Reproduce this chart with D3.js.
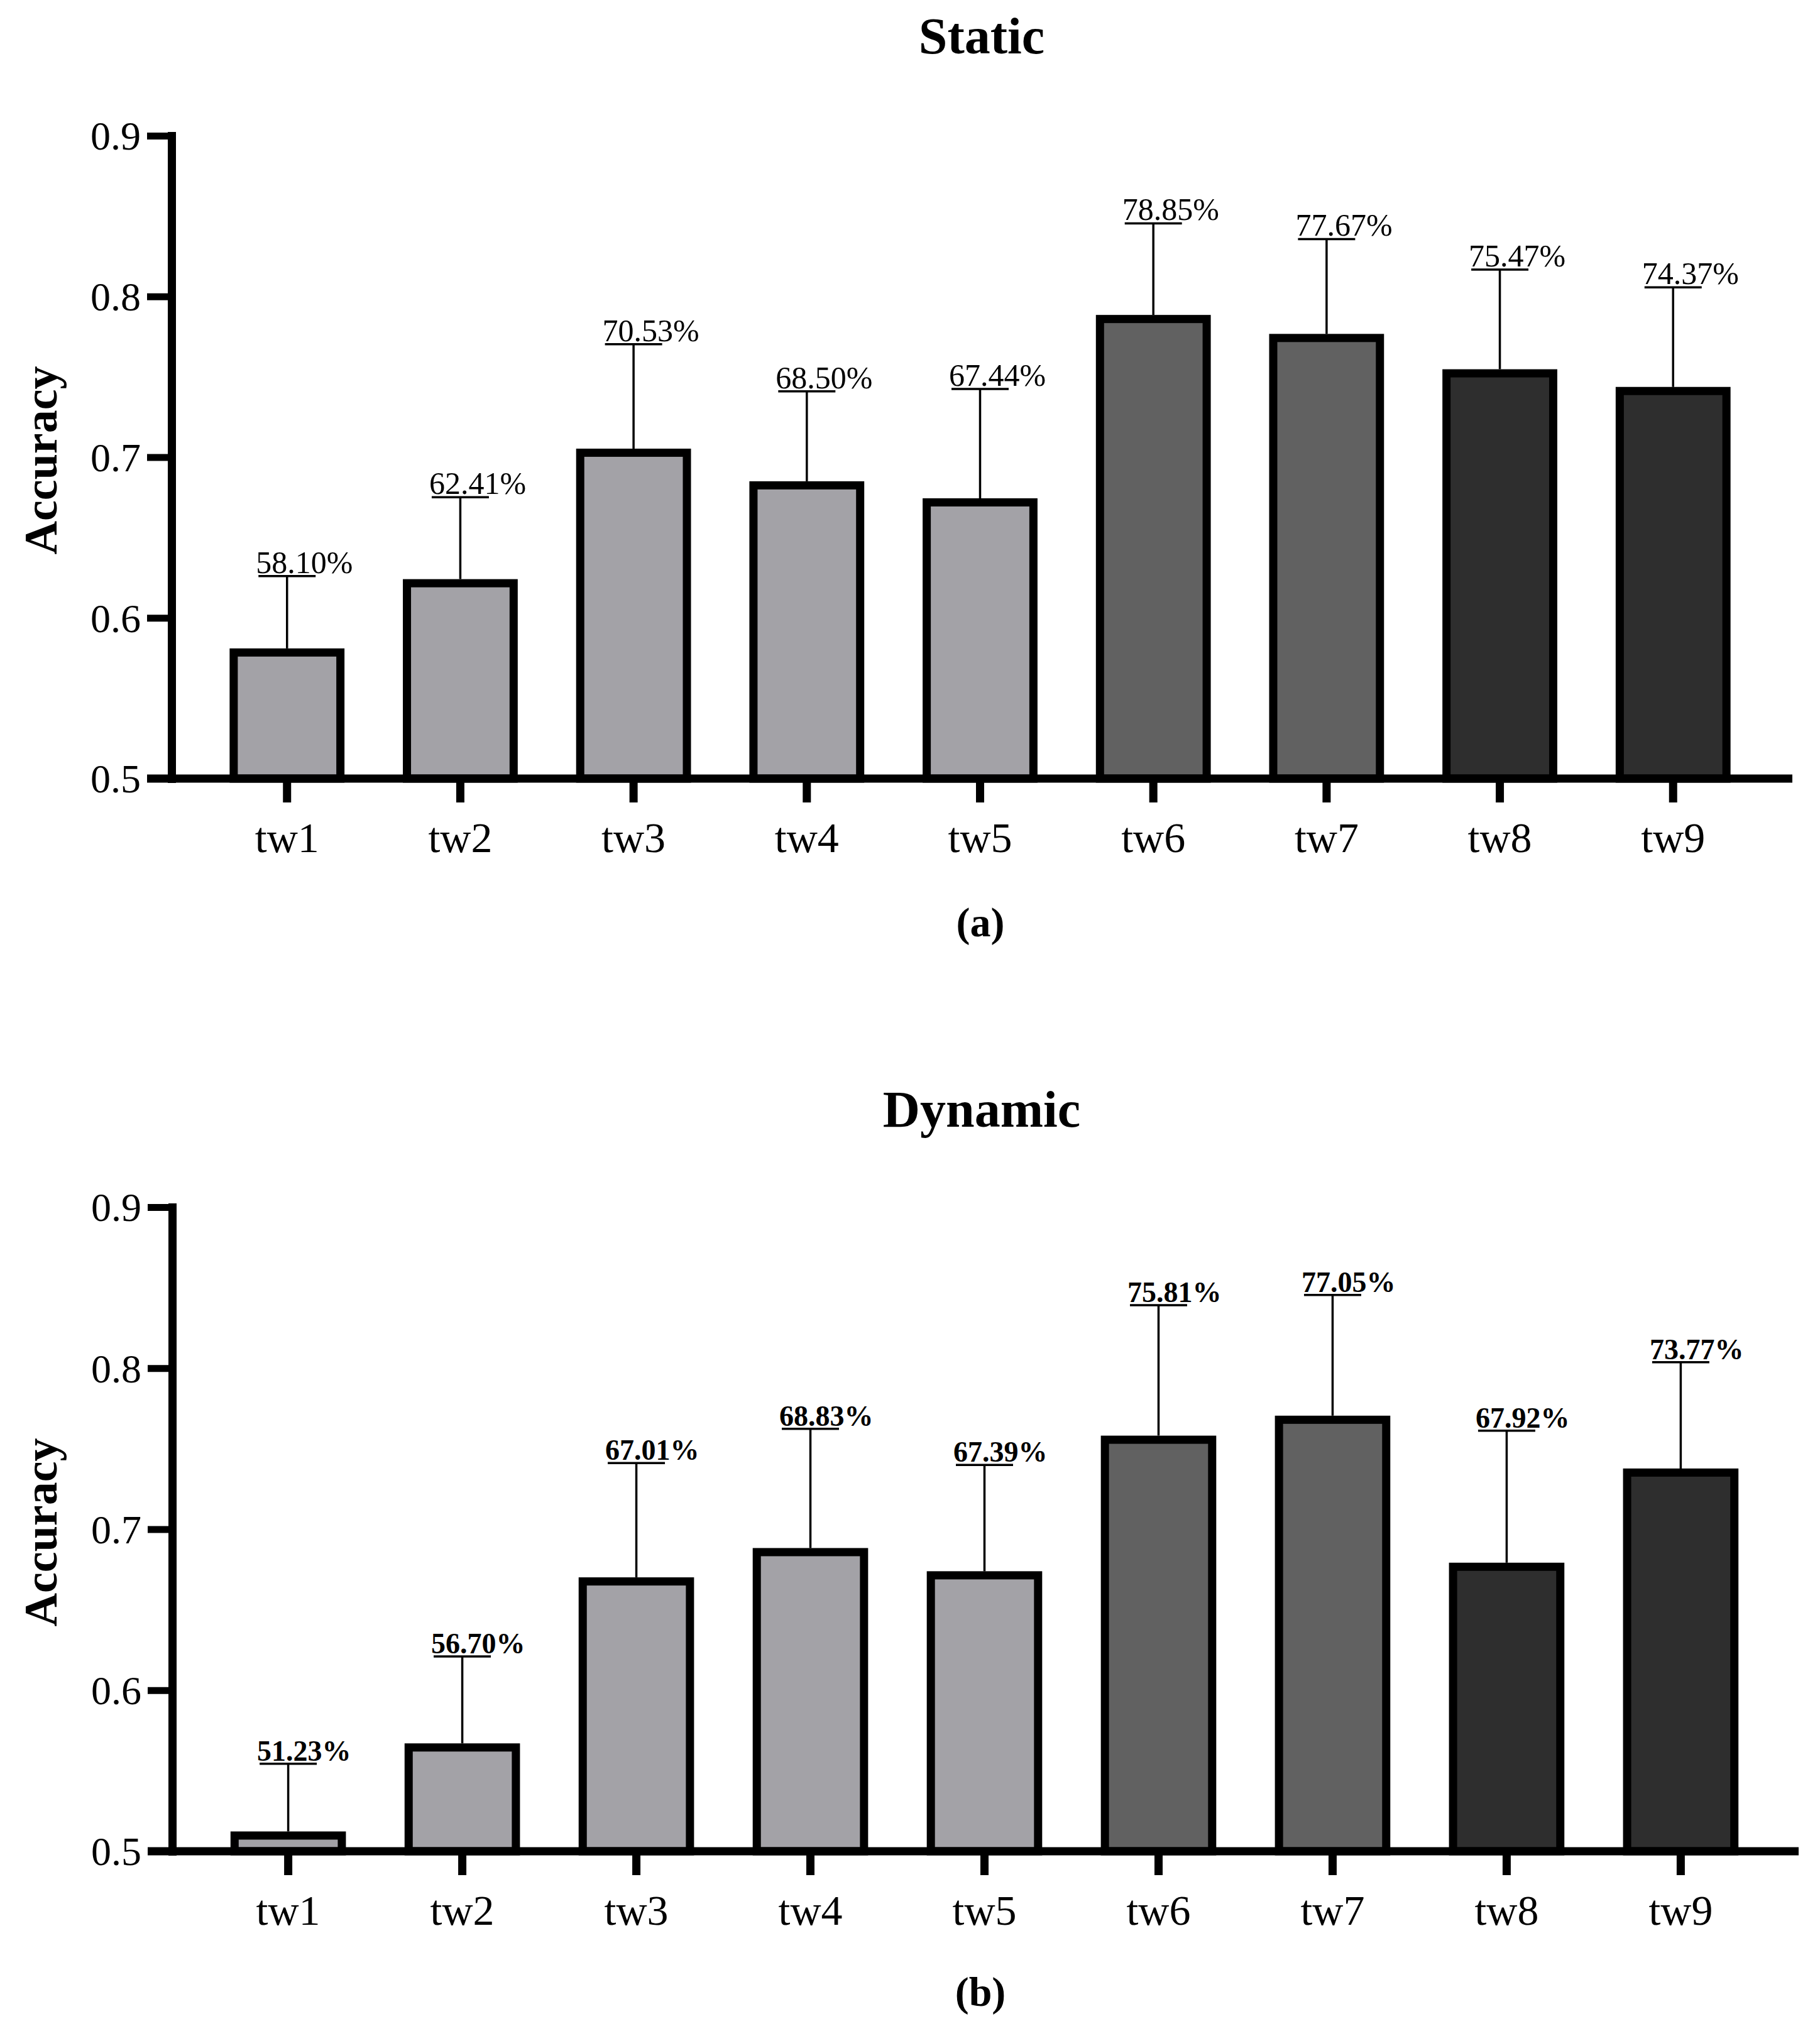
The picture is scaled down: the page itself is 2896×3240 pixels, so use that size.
<!DOCTYPE html>
<html>
<head>
<meta charset="utf-8">
<script src="https://cdn.jsdelivr.net/npm/d3@7"></script>
<style>
  body { margin: 0; background: #fff; }
  text { font-family: "Liberation Serif", "DejaVu Serif", serif; fill: #000; }
</style>
</head>
<body>
<div id="chart"></div>
<script>
// data
const categories = ["tw1", "tw2", "tw3", "tw4", "tw5", "tw6", "tw7", "tw8", "tw9"];
const yTicks = [0.5, 0.6, 0.7, 0.8, 0.9];

const staticAcc = [0.5810, 0.6241, 0.7053, 0.6850, 0.6744, 0.7885, 0.7767, 0.7547, 0.7437];
const staticErr = [0.045, 0.051, 0.065, 0.056, 0.068, 0.057, 0.059, 0.062, 0.062];

const dynamicAcc = [0.5123, 0.5670, 0.6701, 0.6883, 0.6739, 0.7581, 0.7705, 0.6792, 0.7377];
const dynamicErr = [0.042, 0.054, 0.071, 0.074, 0.066, 0.081, 0.075, 0.082, 0.066];

const width = 2896;
const height = 3240;

const svg = d3.select("#chart")
  .append("svg")
  .attr("width", width)
  .attr("height", height);

// bar shades: tw1-5 light, tw6-7 mid, tw8-9 dark
const fill = d3.scaleOrdinal()
  .domain(categories)
  .range(["#a3a2a7", "#a3a2a7", "#a3a2a7", "#a3a2a7", "#a3a2a7",
          "#616161", "#616161", "#2e2e2e", "#2e2e2e"]);

const panels = [
  {title: "Static", caption: "(a)", acc: staticAcc, err: staticErr,
   yTop: 216, yBase: 1239, x0: 273, x1: 2846, axisEnd: 2852,
   titleY: 85, captionY: 1490, labelWeight: "normal", labelSize: 50},
  {title: "Dynamic", caption: "(b)", acc: dynamicAcc, err: dynamicErr,
   yTop: 1921, yBase: 2946, x0: 274, x1: 2859, axisEnd: 2862,
   titleY: 1793, captionY: 3192, labelWeight: "bold", labelSize: 46}
];

const axisW = 13;
const barStroke = 13;

panels.forEach(p => {
  const g = svg.append("g");

  const x = d3.scaleBand()
    .domain(categories)
    .range([p.x0, p.x1])
    .paddingInner(0.337)
    .paddingOuter(0.335);

  const y = d3.scaleLinear()
    .domain([0.5, 0.9])
    .range([p.yBase, p.yTop]);

  const rows = categories.map((c, i) => ({cat: c, v: p.acc[i], e: p.err[i]}));

  // bars (border kept inside the value edge)
  g.selectAll(".bar")
    .data(rows)
    .enter()
    .append("rect")
    .attr("class", "bar")
    .attr("x", d => x(d.cat) + barStroke / 2)
    .attr("y", d => y(d.v) + barStroke / 2)
    .attr("width", x.bandwidth() - barStroke)
    .attr("height", d => y(0.5) - y(d.v) - barStroke / 2)
    .attr("fill", d => fill(d.cat))
    .attr("stroke", "#000")
    .attr("stroke-width", barStroke);

  // error bars, upper side only
  const capHalf = 45.5;
  const err = g.selectAll(".err")
    .data(rows)
    .enter()
    .append("g")
    .attr("class", "err");

  err.append("line")
    .attr("x1", d => x(d.cat) + x.bandwidth() / 2)
    .attr("x2", d => x(d.cat) + x.bandwidth() / 2)
    .attr("y1", d => y(d.v))
    .attr("y2", d => y(d.v + d.e))
    .attr("stroke", "#000")
    .attr("stroke-width", 3.5);

  err.append("line")
    .attr("x1", d => x(d.cat) + x.bandwidth() / 2 - capHalf)
    .attr("x2", d => x(d.cat) + x.bandwidth() / 2 + capHalf)
    .attr("y1", d => y(d.v + d.e))
    .attr("y2", d => y(d.v + d.e))
    .attr("stroke", "#000")
    .attr("stroke-width", 3.5);

  err.append("text")
    .attr("x", d => x(d.cat) + x.bandwidth() / 2 - capHalf - 4)
    .attr("y", d => y(d.v + d.e) - 5)
    .attr("font-size", p.labelSize)
    .attr("font-weight", p.labelWeight)
    .text(d => (d.v * 100).toFixed(2) + "%");

  // y axis
  const yAxis = d3.axisLeft(y)
    .tickValues(yTicks)
    .tickFormat(d3.format(".1f"))
    .tickSize(39)
    .tickSizeOuter(0)
    .tickPadding(10);

  const ya = g.append("g")
    .attr("transform", `translate(${p.x0}, 0)`)
    .call(yAxis);
  ya.select(".domain")
    .attr("stroke-width", axisW)
    .attr("stroke-linecap", "square");
  ya.selectAll(".tick line").attr("stroke-width", 11);
  ya.selectAll(".tick text")
    .attr("font-size", 64)
    .attr("font-family", "Liberation Serif")
    .attr("dy", "0.34em");

  // x axis
  const xAxis = d3.axisBottom(x)
    .tickSize(38)
    .tickSizeOuter(0)
    .tickPadding(31);

  const xa = g.append("g")
    .attr("transform", `translate(0, ${y(0.5)})`)
    .call(xAxis);
  xa.select(".domain").remove();
  xa.selectAll(".tick line").attr("stroke-width", 13);
  xa.selectAll(".tick text")
    .attr("font-size", 68)
    .attr("font-family", "Liberation Serif");

  xa.append("line")
    .attr("x1", p.x0 - 39)
    .attr("x2", p.axisEnd)
    .attr("y1", 0)
    .attr("y2", 0)
    .attr("stroke", "#000")
    .attr("stroke-width", axisW);

  // y label
  g.append("text")
    .attr("transform", `translate(90, ${(p.yTop + p.yBase) / 2 + 5}) rotate(-90)`)
    .attr("text-anchor", "middle")
    .attr("font-size", 74)
    .attr("font-weight", "bold")
    .text("Accuracy");

  // title and caption
  g.append("text")
    .attr("x", 1562)
    .attr("y", p.titleY)
    .attr("text-anchor", "middle")
    .attr("font-size", 82)
    .attr("font-weight", "bold")
    .text(p.title);

  g.append("text")
    .attr("x", 1560)
    .attr("y", p.captionY)
    .attr("text-anchor", "middle")
    .attr("font-size", 66)
    .attr("font-weight", "bold")
    .text(p.caption);
});
</script>
</body>
</html>
